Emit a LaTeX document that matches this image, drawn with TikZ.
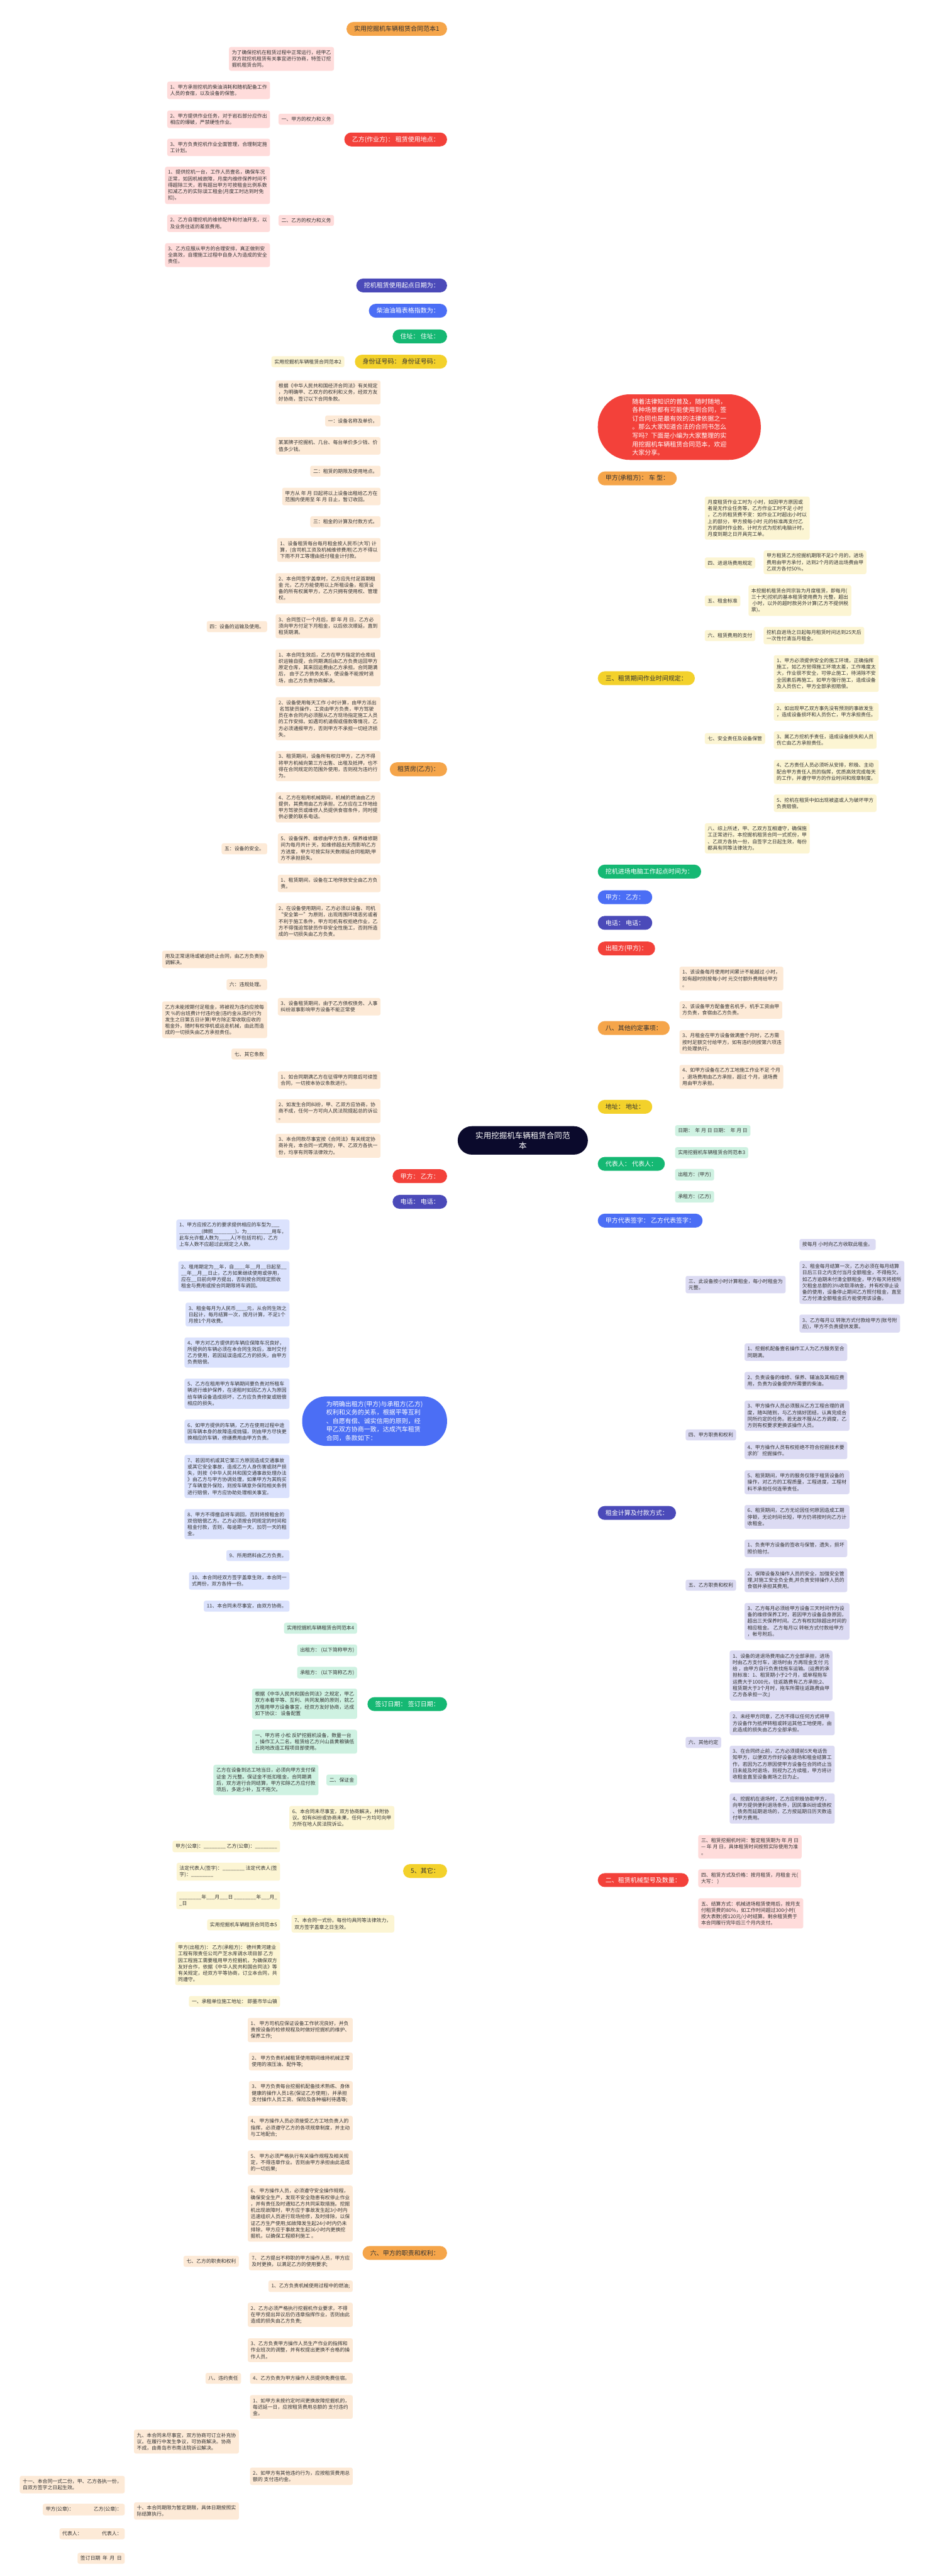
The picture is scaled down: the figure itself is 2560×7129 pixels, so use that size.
\documentclass[tikz,border=0pt]{standalone}
\usepackage{fontspec}
\setmainfont{Noto Sans CJK SC}
\usetikzlibrary{backgrounds}
\definecolor{oB}{HTML}{F5A54A}\definecolor{oD}{HTML}{F09A3E}\definecolor{oL}{HTML}{FDEAD7}
\definecolor{rB}{HTML}{F3413A}\definecolor{rD}{HTML}{D8352D}\definecolor{rL}{HTML}{FFDCDB}
\definecolor{iB}{HTML}{4B4AB9}\definecolor{iD}{HTML}{3A399E}\definecolor{iL}{HTML}{DCDBF3}
\definecolor{bB}{HTML}{4B6EF5}\definecolor{bD}{HTML}{3B5BE0}\definecolor{bL}{HTML}{DBE2FD}
\definecolor{gB}{HTML}{15B873}\definecolor{gD}{HTML}{10A565}\definecolor{gL}{HTML}{CFF2E2}
\definecolor{yB}{HTML}{F3D12B}\definecolor{yD}{HTML}{E9C41A}\definecolor{yL}{HTML}{FCF5D3}
\definecolor{cB}{HTML}{0B0A2C}\definecolor{txt}{HTML}{333333}
\tikzset{
 itm/.style={font=\fontsize{3.9pt}{5.05pt}\selectfont, align=left, inner xsep=2.3pt, inner ysep=2.5pt, rounded corners=1.5pt, text=txt},
 br/.style={font=\fontsize{4.95pt}{6.7pt}\selectfont, inner xsep=6pt, inner ysep=0pt, minimum height=10.9pt, rounded corners=5.4pt},
 brO/.style={br,fill=oB,text=txt}, brR/.style={br,fill=rB,text=white},
 brI/.style={br,fill=iB,text=white}, brB/.style={br,fill=bB,text=white},
 brG/.style={br,fill=gB,text=white}, brY/.style={br,fill=yB,text=txt},
 bigR/.style={fill=rB,text=white,font=\fontsize{4.95pt}{6.7pt}\selectfont,align=left,inner xsep=27pt,inner ysep=3.4pt,rounded corners=25pt},
 bigB/.style={fill=bB,text=white,font=\fontsize{4.95pt}{6.7pt}\selectfont,align=left,inner xsep=19pt,inner ysep=3.75pt,rounded corners=19pt},
 rootn/.style={fill=cB,text=white,font=\fontsize{6.2pt}{8pt}\selectfont,align=center,inner xsep=14pt,inner ysep=4.3pt,rounded corners=11pt},
 lk/.style={line width=0.6pt, rounded corners=2pt},
 mk/.style={line width=0.9pt}
}
\newcommand\itL[5]{\node[itm,fill=#1,anchor=east] (#2) at (#3,#4) {#5};}
\newcommand\itR[5]{\node[itm,fill=#1,anchor=west] (#2) at (#3,#4) {#5};}
\newcommand\lkL[3]{\draw[lk,draw=#1] (#2.west) -- ++(-13,0) |- (#3.east);}
\newcommand\lkR[3]{\draw[lk,draw=#1] (#2.east) -- ++(13,0) |- (#3.west);}
\newcommand\mainL[3]{\draw[mk,draw=#1] (#2.east) .. controls (1350,#3) and (1350,3156) .. (rc);}
\newcommand\mainR[3]{\draw[mk,draw=#1] (rc) .. controls (1550,3156) and (1550,#3) .. (#2.west);}
\begin{document}
\begin{tikzpicture}[x=0.01cm,y=-0.01cm]
\useasboundingbox (0,0) rectangle (2560,7129);
\fill[white] (0,0) rectangle (2560,7129);
\coordinate (rc) at (1447,3156);
\node[rootn] (root) at (1447,3156) {实用挖掘机车辆租赁合同范\\本};
% ---------------- LEFT ----------------
\node[brO,anchor=east] (L1) at (1238,80) {实用挖掘机车辆租赁合同范本1};
\node[brR,anchor=east] (L2) at (1238,386) {乙方(作业方)：\ 租赁使用地点：};
\itL{rL}{L2a}{925}{163}{为了确保挖机在租赁过程中正常运行，经甲乙\\双方就挖机租赁有关事宜进行协商，特签订挖\\掘机租赁合同。}
\itL{rL}{L2b}{925}{330}{一、甲方的权力和义务}
\itL{rL}{L2bA}{748}{250}{1、甲方承担挖机的柴油消耗和随机配备工作\\人员的食宿，以及设备的保管。}
\itL{rL}{L2bB}{748}{330}{2、甲方提供作业任务，对于岩石部分应作出\\相应的爆破，严禁硬性作业。}
\itL{rL}{L2bC}{748}{408}{3、甲方负责挖机作业全面管理，合理制定施\\工计划。}
\itL{rL}{L2c}{925}{610}{二、乙方的权力和义务}
\itL{rL}{L2cA}{748}{513}{1、提供挖机一台，工作人员壹名，确保车况\\正常，如因机械故障，月度内维修保养时间不\\得超除三天，若有超出甲方可按租金比例系数\\扣减乙方的实际误工租金(月度工时达到时免\\扣)。}
\itL{rL}{L2cB}{748}{618}{2、乙方自理挖机的维修配件和付油开支，以\\及业务往返的差旅费用。}
\itL{rL}{L2cC}{748}{706}{3、乙方应服从甲方的合理安排，真正做到安\\全高效，自理施工过程中自身人为造成的安全\\责任。}
\node[brI,anchor=east] (L3) at (1238,790) {挖机租赁使用起点日期为：};
\node[brB,anchor=east] (L4) at (1238,860) {柴油油箱表格指数为：};
\node[brG,anchor=east] (L5) at (1238,931) {住址：\ 住址：};
\node[brY,anchor=east] (L6) at (1238,1001) {身份证号码：\ 身份证号码：};
\itL{yL}{L6a}{954}{1001}{实用挖掘机车辆租赁合同范本2}
\node[brO,anchor=east] (L7) at (1238,2129) {租赁房(乙方)：};
\itL{oL}{L7a}{1054}{1086}{根据《中华人民共和国经济合同法》有关规定\\，为明确甲、乙双方的权利和义务，经双方友\\好协商，签订以下合同条款。}
\itL{oL}{L7b}{1054}{1165}{一：设备名称及单价。}
\itL{oL}{L7c}{1054}{1234}{某某牌子挖掘机、几台、每台单价多少钱、价\\值多少钱。}
\itL{oL}{L7d}{1054}{1304}{二：租赁的期限及使用地点。}
\itL{oL}{L7e}{1054}{1374}{甲方从 年 月 日起将以上设备出租给乙方在\\范围内使用至 年 月 日止，暂订收回。}
\itL{oL}{L7f}{1054}{1444}{三：租金的计算及付款方式。}
\itL{oL}{L7g}{1054}{1522}{1、设备租赁每台每月租金按人民币(大写) 计\\算，(含司机工资及机械维修费用)乙方不得以\\下雨不开工等理由抵付租金计付款。}
\itL{oL}{L7h}{1054}{1628}{2、本合同签字盖章时，乙方应先付足首期租\\金 元，乙方方能使用以上所租设备，租赁设\\备的所有权属甲方，乙方只拥有使用权、管理\\权。}
\itL{oL}{L7i}{1054}{1733}{3、合同签订一个月后，即 年 月 日，乙方必\\须向甲方付足下月租金，以后依次顺延，直到\\租赁期满。}
\itL{oL}{L7ia}{740}{1734}{四：设备的运输及使用。}
\itL{oL}{L7j}{1054}{1848}{1、本合同生效后，乙方在甲方指定的仓库组\\织运输自提，合同期满后由乙方负责运回甲方\\原定仓库，其来回运费由乙方承担。合同期满\\后，\ 由于乙方债务关系，使设备不能按时退\\场，由乙方负责协商解决。}
\itL{oL}{L7k}{1054}{1989}{2、设备使用每天工作 小时计算，由甲方派出\\\ 名驾驶员操作，工资由甲方负责，甲方驾驶\\员在本合同内必须服从乙方现场指定施工人员\\的工作安排。如遇司机请假或借款等情况，乙\\方必须通报甲方，否则甲方不承担一切经济损\\失。}
\itL{oL}{L7l}{1054}{2120}{3、租赁期间，设备所有权归甲方，乙方不得\\将甲方机械向第三方出售、出租及抵押，也不\\得在合同规定的范围外使用，否则视为违约行\\为。}
\itL{oL}{L7m}{1054}{2234}{4、乙方在租用机械期间，机械的燃油由乙方\\提供，其费用由乙方承担。乙方应在工作地给\\甲方驾驶员或维修人员提供食宿条件，同时提\\供必要的联系电话。}
\itL{oL}{L7n}{1054}{2348}{5、设备保养、维修由甲方负责，保养维修期\\间为每月共计 天，如维修超出天而影响乙方\\方进度，甲方可按实际天数顺延合同租期;甲\\方不承担损失。}
\itL{oL}{L7na}{740}{2349}{五：设备的安全。}
\itL{oL}{L7o}{1054}{2445}{1、租赁期间，设备在工地停放安全由乙方负\\责。}
\itL{oL}{L7p}{1054}{2550}{2、在设备使用期间，乙方必须以设备、司机\\“安全第一”为原则，出现周围环境恶劣或者\\不利于施工条件，甲方司机有权拒绝作业，乙\\方不得强迫驾驶员作非安全性施工，否则所造\\成的一切损失由乙方负责。}
\itL{oL}{L7q}{1054}{2786}{3、设备租赁期间，由于乙方债权债务、人事\\纠纷滋事影响甲方设备不能正常使}
\itL{oL}{L7qA}{740}{2655}{用及正常退场或被迫终止合同，由乙方负责协\\调解决。}
\itL{oL}{L7qB}{740}{2725}{六：违规处理。}
\itL{oL}{L7qC}{740}{2822}{乙方未能按期付足租金，将被视为违约应按每\\天 \%的台班费计付违约金(违约金从违约行为\\发生之日第五日计算)甲方除正常收取应收的\\租金外，随时有权停机或运走机械，由此而造\\成的一切损失由乙方承担责任。}
\itL{oL}{L7qD}{740}{2917}{七、其它条款}
\itL{oL}{L7r}{1054}{2989}{1、如合同期满乙方在征得甲方同意后可续签\\合同，一切按本协议条款进行。}
\itL{oL}{L7s}{1054}{3075}{2、如发生合同纠纷，甲、乙双方应协商，协\\商不成，任何一方可向人民法院提起总的诉讼\\。}
\itL{oL}{L7t}{1054}{3171}{3、本合同款尽事宜按《合同法》有关规定协\\商补充，本合同一式两份，甲、乙双方各执一\\份，均享有同等法律效力。}
\node[brR,anchor=east] (L8) at (1238,3255) {甲方：\ 乙方：};
\node[brI,anchor=east] (L9) at (1238,3326) {电话：\ 电话：};
\node[bigB,anchor=east] (L10) at (1238,3933) {为明确出租方(甲方)与承租方(乙方)\\权利和义务的关系，根据平等互利\\、自愿有偿、诚实信用的原则，经\\甲乙双方协商一致，达成汽车租赁\\合同，条款如下：};
\itL{bL}{L10a}{802}{3417}{1、甲方应按乙方的要求提供相应的车型为\_\_\_\\\_\_\_\_\_\_\_\_(牌照\_\_\_\_\_\_\_\_)，为\_\_\_\_\_\_\_\_\_用车，\\此车允许载人数为\_\_\_\_人(不包括司机)，乙方\\上车人数不应超过此规定之人数。}
\itL{bL}{L10b}{802}{3532}{2、租用期定为\_\_年，自\_\_\_\_年\_\_月\_\_日起至\_\_\\\_\_年\_\_月\_\_日止，乙方如果继续使用或停用，\\应在\_\_日前向甲方提出，否则按合同规定照收\\租金与费用或按合同期限将车调回。}
\itL{bL}{L10c}{802}{3638}{3、租金每月为人民币\_\_\_\_元，从合同生效之\\日起计，每月结算一次，按月计算，不足1个\\月按1个月收费。}
\itL{bL}{L10d}{802}{3743}{4、甲方对乙方提供的车辆应保障车况良好，\\所提供的车辆必须在本合同生效后，准时交付\\乙方使用，若因延误造成乙方的损失，由甲方\\负责赔偿。}
\itL{bL}{L10e}{802}{3857}{5、乙方在租用甲方车辆期间要负责对所租车\\辆进行维护保养，在退租时如因乙方人为原因\\给车辆设备造成损坏，乙方应负责修复或赔偿\\相应的损失。}
\itL{bL}{L10f}{802}{3962}{6、如甲方提供的车辆，乙方在使用过程中途\\因车辆本身的故障造成抛锚，则由甲方尽快更\\换相应的车辆，修缮费用由甲方负责。}
\itL{bL}{L10g}{802}{4086}{7、若因司机或其它第三方原因造成交通事故\\或其它安全事故，造成乙方人身伤害或财产损\\失，则按《中华人民共和国交通事故处理办法\\》由乙方与甲方协调处理，如果甲方为其购买\\了车辆意外保险，则按车辆意外保险相关条例\\进行赔偿，甲方应协助处理相关事宜。}
\itL{bL}{L10h}{802}{4218}{8、甲方不得擅自将车调回，否则将按租金的\\双倍赔偿乙方。乙方必须按合同规定的时间和\\租金付款，否则，每逾期一天，加罚一天的租\\金。}
\itL{bL}{L10i}{802}{4305}{9、所用燃料由乙方负责。}
\itL{bL}{L10j}{802}{4375}{10、本合同经双方签字盖章生效，本合同一\\式两份，双方各持一份。}
\itL{bL}{L10k}{802}{4445}{11、本合同未尽事宜，由双方协商。}
\node[brG,anchor=east] (L11) at (1238,4716) {签订日期：\ 签订日期：};
\itL{gL}{L11a}{989}{4506}{实用挖掘机车辆租赁合同范本4}
\itL{gL}{L11b}{989}{4567}{出租方：\ (以下简称甲方)}
\itL{gL}{L11c}{989}{4629}{承租方：\ (以下简称乙方)}
\itL{gL}{L11d}{989}{4715}{根据《中华人民共和国合同法》之规定，甲乙\\双方本着平等、互利、共同发展的原则，就乙\\方租用甲方设备事宜，经双方友好协商，达成\\如下协议：\ 设备配置}
\itL{gL}{L11e}{989}{4820}{一、甲方将 小松 反铲挖掘机设备，数量一台\\，操作工人二名，租赁给乙方兴山县黄粮镇低\\丘岗地改造工程项目部使用。}
\itL{gL}{L11f}{989}{4926}{二、保证金}
\itL{gL}{L11fa}{882}{4926}{乙方在设备到达工地当日，必须向甲方支付保\\证金 万元整。保证金不抵扣租金，合同期满\\后，双方进行合同结算，甲方扣除乙方应付款\\项后，多退少补，互不拖欠。}
\node[brY,anchor=east] (L12) at (1238,5178) {5、其它：};
\itL{yL}{L12a}{1092}{5031}{6、本合同未尽事宜，双方协商解决，并附协\\议。如有纠纷或协商未果，任何一方均可向甲\\方所在地人民法院诉讼。}
\itL{yL}{L12b}{1092}{5324}{7、本合同一式份。每份均具同等法律效力，\\双方签字盖章之日生效。}
\itL{yL}{L12bA}{776}{5110}{甲方(公章)：\_\_\_\_\_\_\_\_\ 乙方(公章)：\_\_\_\_\_\_\_\_}
\itL{yL}{L12bB}{776}{5180}{法定代表人(签字)：\_\_\_\_\_\_\_\_\ 法定代表人(签\\字)：\_\_\_\_\_\_\_\_}
\itL{yL}{L12bC}{776}{5259}{\_\_\_\_\_\_\_\_年\_\_\_月\_\_\_日\ \_\_\_\_\_\_\_\_年\_\_\_月\_\\\_日}
\itL{yL}{L12bD}{776}{5327}{实用挖掘机车辆租赁合同范本5}
\itL{yL}{L12bE}{776}{5434}{甲方(出租方)：\ 乙方(承租方)：\ 德州黄河建业\\工程有限责任公司产芝水库调水项目部\ 乙方\\因工程施工需要租用甲方挖掘机，为确保双方\\友好合作，依据《中华人民共和国合同法》等\\有关规定，经双方平等协商，订立本合同，共\\同遵守。}
\itL{yL}{L12bF}{776}{5539}{一、承租单位施工地址：\ 即墨市华山镇}
\node[brO,anchor=east] (L13) at (1238,6235) {六、甲方的职责和权利：};
\itL{oL}{L13a}{977}{5618}{1、\ 甲方司机应保证设备工作状况良好，并负\\责按设备的检修规程及时做好挖掘机的维护、\\保养工作;}
\itL{oL}{L13b}{977}{5705}{2、\ 甲方负责机械租赁使用期间维持机械正常\\使用的液压油、配件等;}
\itL{oL}{L13c}{977}{5793}{3、\ 甲方负责每台挖掘机配备技术熟练、身体\\健康的操作人员1名(保证乙方使用)，并承担\\支付操作人员工资、保险及各种福利待遇等;}
\itL{oL}{L13d}{977}{5889}{4、\ 甲方操作人员必须接受乙方工地负责人的\\指挥，必须遵守乙方的各项规章制度，并主动\\与工地配合;}
\itL{oL}{L13e}{977}{5985}{5、\ 甲方必须严格执行有关操作规程及相关规\\定，不得违章作业。否则由甲方承担由此造成\\的一切后果;}
\itL{oL}{L13f}{977}{6126}{6、\ 甲方操作人员，必须遵守安全操作规程，\\确保安全生产，发现不安全隐患有权停止作业\\，并有责任及时通知乙方共同采取措施。挖掘\\机出现故障时，甲方应于事故发生起3小时内\\迅速组织人员进行现场抢修，及时排除，以保\\证乙方生产使用;如故障发生起24小时内仍未\\排除，甲方应于事故发生起36小时内更换挖\\掘机，以确保工程顺利施工\ 。}
\itL{oL}{L13g}{977}{6258}{7、\ 乙方提出不称职的甲方操作人员，甲方应\\及时更换，以满足乙方的使用要求;}
\itL{oL}{L13ga}{662}{6258}{七、乙方的职责和权利}
\itL{oL}{L13h}{977}{6327}{1、乙方负责机械使用过程中的燃油;}
\itL{oL}{L13i}{977}{6406}{2、乙方必须严格执行挖掘机作业要求，不得\\在甲方提出异议后仍违章指挥作业，否则由此\\造成的损失由乙方负责;}
\itL{oL}{L13j}{977}{6504}{3、乙方负责甲方操作人员生产作业的指挥和\\作业班次的调整，并有权提出更换不合格的操\\作人员。}
\itL{oL}{L13k}{977}{6582}{4、乙方负责为甲方操作人员提供免费住宿。}
\itL{oL}{L13ka}{668}{6582}{八、违约责任}
\itL{oL}{L13l}{977}{6661}{1、如甲方未按约定时间更换故障挖掘机的，\\每迟延一日，应按租赁费用总额的 支付违约\\金。}
\itL{oL}{L13m}{977}{6853}{2、如甲方有其他违约行为，应按租赁费用总\\额的 支付违约金。}
\itL{oL}{L13mA}{662}{6757}{九、本合同未尽事宜，双方协商可订立补充协\\议。在履行中发生争议，可协商解决。协商\\不成，由青岛市市南法院诉讼解决。}
\itL{oL}{L13mB}{662}{6949}{十、本合同期限为暂定期限，具体日期按照实\\际结算执行。}
\itL{oL}{L13nA}{346}{6876}{十一、本合同一式二份，甲、乙方各执一份，\\自双方签字之日起生效。}
\itL{oL}{L13nB}{346}{6945}{甲方(公章)：\qquad\qquad 乙方(公章)：}
\itL{oL}{L13nC}{346}{7012}{代表人：\qquad\qquad 代表人：}
\itL{oL}{L13nD}{346}{7080}{签订日期\ \ 年\ \ 月\ \ 日}
% ---------------- RIGHT ----------------
\node[bigR,anchor=west] (R1) at (1654,1182) {随着法律知识的普及，随时随地，\\各种场景都有可能使用到合同，签\\订合同也是最有效的法律依据之一\\。那么大家知道合法的合同书怎么\\写吗？下面是小编为大家整理的实\\用挖掘机车辆租赁合同范本，欢迎\\大家分享。};
\node[brO,anchor=west] (R2) at (1654,1324) {甲方(承租方)：\ 车\ 型：};
\node[brY,anchor=west] (R3) at (1654,1877) {三、租赁期间作业时间规定：};
\itR{yL}{R3a}{1950}{1434}{月度租赁作业工时为 小时，如因甲方原因或\\者是无作业任务等，乙方作业工时不足 小时\\，乙方的租赁费不变：如作业工时超出小时以\\上的部分，甲方按每小时 元的标准再支付乙\\方的超时作业款。计时方式为挖机电脑计时，\\月度到期之日开具完工单。}
\itR{yL}{R3b}{1950}{1558}{四、进退场费用规定}
\itR{yL}{R3ba}{2113}{1556}{甲方租赁乙方挖掘机期限不足2个月的，进场\\费用由甲方承付，达到2个月的进出场费由甲\\乙双方各付50\%。}
\itR{yL}{R3c}{1950}{1663}{五、租金标准}
\itR{yL}{R3ca}{2071}{1662}{本挖掘机租赁合同宗旨为月度租赁，即每月(\\三十天)挖机的基本租赁使用费为 元整，超出\\\ 小时，以外的超时款另外计算(乙方不提供税\\票)。}
\itR{yL}{R3d}{1950}{1759}{六、租赁费用的支付}
\itR{yL}{R3da}{2113}{1759}{挖机自进场之日起每月租赁时间达到25天后\\一次性付清当月租金。}
\itR{yL}{R3e}{1950}{2044}{七、安全责任及设备保管}
\itR{yL}{R3eA}{2141}{1864}{1、甲方必须提供安全的施工环境，正确指挥\\施工，如乙方觉得施工环境太差，工作难度太\\大，作业很不安全，可停止施工，待消除不安\\全因素后再施工。如甲方强行施工，造成设备\\及人员伤亡，甲方全部承担赔偿。}
\itR{yL}{R3eB}{2141}{1970}{2、如出现甲乙双方事先没有预测的事故发生\\，造成设备损坏和人员伤亡，甲方承担责任。}
\itR{yL}{R3eC}{2141}{2048}{3、属乙方挖机手责任，造成设备损失和人员\\伤亡由乙方承担责任。}
\itR{yL}{R3eD}{2141}{2136}{4、乙方责任人员必须听从安排，积极、主动\\配合甲方责任人员的指挥，优质高效完成每天\\的工作，并遵守甲方的作业时间和规章制度。}
\itR{yL}{R3eE}{2141}{2223}{5、挖机在租赁中如出现被盗或人为破坏甲方\\负责赔偿。}
\itR{yL}{R3f}{1950}{2320}{八、综上所述，甲、乙双方互相遵守，确保施\\工正常进行。本挖掘机租赁合同一式贰份，甲\\、乙双方各执一份，自签字之日起生效，每份\\都具有同等法律效力。}
\node[brG,anchor=west] (R4) at (1654,2412) {挖机进场电脑工作起点时间为：};
\node[brB,anchor=west] (R5) at (1654,2483) {甲方：\ 乙方：};
\node[brI,anchor=west] (R6) at (1654,2554) {电话：\ 电话：};
\node[brR,anchor=west] (R7) at (1654,2625) {出租方(甲方)：};
\node[brO,anchor=west] (R8) at (1654,2845) {八、其他约定事项：};
\itR{oL}{R8a}{1880}{2708}{1、该设备每月使用时间累计不能越过 小时，\\如有超时则按每小时 元交付额外费用给甲方\\。}
\itR{oL}{R8b}{1880}{2795}{2、该设备甲方配备壹名机手，机手工资由甲\\方负责，食宿由乙方负责。}
\itR{oL}{R8c}{1880}{2884}{3、月租金在甲方设备做满壹个月时，乙方需\\按时足额交付给甲方，如有违约则按第六项违\\约处理执行。}
\itR{oL}{R8d}{1880}{2980}{4、如甲方设备在乙方工地施工作业不足 个月\\，退场费用由乙方承担，超过 个月，退场费\\用由甲方承担。}
\node[brY,anchor=west] (R9) at (1654,3063) {地址：\ 地址：};
\node[brG,anchor=west] (R10) at (1654,3221) {代表人：\ 代表人：};
\itR{gL}{R10a}{1868}{3129}{日期：\ \ 年\ 月\ 日\ 日期：\ \ 年\ 月\ 日}
\itR{gL}{R10b}{1868}{3190}{实用挖掘机车辆租赁合同范本3}
\itR{gL}{R10c}{1868}{3251}{出租方：(甲方)}
\itR{gL}{R10d}{1868}{3312}{承租方：(乙方)}
\node[brB,anchor=west] (R11) at (1654,3378) {甲方代表签字：\ 乙方代表签字：};
\node[brI,anchor=west] (R12) at (1654,4187) {租金计算及付款方式：};
\itR{iL}{R12a}{1897}{3555}{三、此设备按小时计算租金，每小时租金为\\元整。}
\itR{iL}{R12aA}{2212}{3444}{按每月 小时向乙方收取此租金。}
\itR{iL}{R12aB}{2212}{3549}{2、租金每月结算一次，乙方必须在每月结算\\日后三日之内支付当月全额租金，不得拖欠。\\如乙方逾期未付清全额租金，甲方每天将按所\\欠租金总额的3\%收取滞纳金。并有权停止设\\备的使用，设备停止期间乙方照付租金，直至\\乙方付清全额租金后方能使用该设备。}
\itR{iL}{R12aC}{2212}{3663}{3、乙方每月以 转账方式付款给甲方(账号附\\后)，甲方不负责提供发票。}
\itR{iL}{R12b}{1897}{3971}{四、甲方职责和权利}
\itR{iL}{R12bA}{2060}{3742}{1、挖掘机配备壹名操作工人为乙方服务至合\\同期满。}
\itR{iL}{R12bB}{2060}{3821}{2、负责设备的维修、保养、辅油及其相应费\\用，负责为设备提供所需要的柴油。}
\itR{iL}{R12bC}{2060}{3918}{3、甲方操作人员必须服从乙方工程合理的调\\度，随叫随到，与乙方搞好团结，认真完成合\\同所约定的任务。若无故不服从乙方调度，乙\\方则有权要求更换该操作人员。}
\itR{iL}{R12bD}{2060}{4014}{4、甲方操作人员有权拒绝不符合挖掘技术要\\求的'挖掘操作。}
\itR{iL}{R12bE}{2060}{4102}{5、租赁期间，甲方的服务仅限于租赁设备的\\操作，对乙方的工程质量，工程进度，工程材\\料不承担任何连带责任。}
\itR{iL}{R12bF}{2060}{4198}{6、租赁期间，乙方无论因任何原因造成工期\\停顿，无论时间长短，甲方仍将按时向乙方计\\收租金。}
\itR{iL}{R12c}{1897}{4387}{五、乙方职责和权利}
\itR{iL}{R12cA}{2060}{4285}{1、负责甲方设备的签收与保管，遗失，损坏\\照价赔付。}
\itR{iL}{R12cB}{2060}{4373}{2、保障设备及操作人员的安全，加强安全管\\理,对施工安全负全责,并负责安排操作人员的\\食宿并承担其费用。}
\itR{iL}{R12cC}{2060}{4487}{3、乙方每月必须给甲方设备三天时间作为设\\备的维修保养工时，若因甲方设备自身原因，\\超出三天保养时间。乙方有权扣除超出时间的\\相应租金。\ 乙方每月以 转帐方式付款给甲方\\，帐号附后。}
\itR{iL}{R12d}{1897}{4822}{六、其他约定}
\itR{iL}{R12dA}{2019}{4637}{1、设备的进退场费用由乙方全部承担，进场\\时由乙方支付车，退场时由 方再现金支付 元\\给 ，由甲方自行负责找拖车运输。(运费的承\\担标准：1、租赁期小于2个月，或单程拖车\\运费大于1000元，往返路费有乙方承担;2、\\租赁期大于3个月时，拖车所需往返路费由甲\\乙方各承担一次;)}
\itR{iL}{R12dB}{2019}{4769}{2、未经甲方同意，乙方不得以任何方式将甲\\方设备作为抵押转租或转运其他工地使用，由\\此造成的损失由乙方全部承担。}
\itR{iL}{R12dC}{2019}{4882}{3、在合同终止前，乙方必须提前5天电话告\\知甲方，以便双方作好设备退场和租金结算工\\作，若因为乙方原因使甲方设备在合同终止当\\日未能及时退场，则视为乙方续租，甲方将计\\收租金直至设备离场之日为止。}
\itR{iL}{R12dD}{2019}{5005}{4、挖掘机在退场时，乙方应积极协助甲方，\\向甲方提供便利退场条件，因民事纠纷或债权\\、债务而延期退场的，乙方按延期日历天数追\\付甲方费用。}
\node[brR,anchor=west] (R13) at (1654,5203) {二、租赁机械型号及数量：};
\itR{rL}{R13a}{1932}{5111}{三、租赁挖掘机时间：暂定租赁期为 年 月 日\\— 年 月 日，具体租赁时间按照实际使用为准\\。}
\itR{rL}{R13b}{1932}{5198}{四、租赁方式及价格：按月租赁，月租金 元(\\大写：\ )}
\itR{rL}{R13c}{1932}{5295}{五、结算方式：机械进场租赁使用后，按月支\\付租赁费的80\%，如工作时间超过300小时(\\按大表数)按120元/小时结算。剩余租赁费于\\本合同履行完毕后三个月内支付。}
% ---------------- CONNECTORS ----------------
\begin{scope}[on background layer]
\mainL{oB}{L1}{80}\mainL{rB}{L2}{386}\mainL{iB}{L3}{790}\mainL{bB}{L4}{860}
\mainL{gB}{L5}{931}\mainL{yB}{L6}{1001}\mainL{oB}{L7}{2129}\mainL{rB}{L8}{3255}
\mainL{iB}{L9}{3326}\mainL{bB}{L10}{3933}\mainL{gB}{L11}{4716}\mainL{yB}{L12}{5178}
\mainL{oB}{L13}{6235}
\mainR{rB}{R1}{1182}\mainR{oB}{R2}{1324}\mainR{yB}{R3}{1877}\mainR{gB}{R4}{2412}
\mainR{bB}{R5}{2483}\mainR{iB}{R6}{2554}\mainR{rB}{R7}{2625}\mainR{oB}{R8}{2845}
\mainR{yB}{R9}{3063}\mainR{gB}{R10}{3221}\mainR{bB}{R11}{3378}\mainR{iB}{R12}{4187}
\mainR{rB}{R13}{5203}
\foreach \c in {L2a,L2b,L2c}{\lkL{rD}{L2}{\c}}
\foreach \c in {L2bA,L2bB,L2bC}{\lkL{rD}{L2b}{\c}}
\foreach \c in {L2cA,L2cB,L2cC}{\lkL{rD}{L2c}{\c}}
\lkL{yD}{L6}{L6a}
\foreach \c in {L7a,L7b,L7c,L7d,L7e,L7f,L7g,L7h,L7i,L7j,L7k,L7l,L7m,L7n,L7o,L7p,L7q,L7r,L7s,L7t}{\lkL{oD}{L7}{\c}}
\lkL{oD}{L7i}{L7ia}\lkL{oD}{L7n}{L7na}
\foreach \c in {L7qA,L7qB,L7qC,L7qD}{\lkL{oD}{L7q}{\c}}
\foreach \c in {L10a,L10b,L10c,L10d,L10e,L10f,L10g,L10h,L10i,L10j,L10k}{\lkL{bD}{L10}{\c}}
\foreach \c in {L11a,L11b,L11c,L11d,L11e,L11f}{\lkL{gD}{L11}{\c}}
\lkL{gD}{L11f}{L11fa}
\foreach \c in {L12a,L12b}{\lkL{yD}{L12}{\c}}
\foreach \c in {L12bA,L12bB,L12bC,L12bD,L12bE,L12bF}{\lkL{yD}{L12b}{\c}}
\foreach \c in {L13a,L13b,L13c,L13d,L13e,L13f,L13g,L13h,L13i,L13j,L13k,L13l,L13m}{\lkL{oD}{L13}{\c}}
\lkL{oD}{L13g}{L13ga}\lkL{oD}{L13k}{L13ka}
\foreach \c in {L13mA,L13mB}{\lkL{oD}{L13m}{\c}}
\foreach \c in {L13nA,L13nB,L13nC,L13nD}{\lkL{oD}{L13mB}{\c}}
\foreach \c in {R3a,R3b,R3c,R3d,R3e,R3f}{\lkR{yD}{R3}{\c}}
\lkR{yD}{R3b}{R3ba}\lkR{yD}{R3c}{R3ca}\lkR{yD}{R3d}{R3da}
\foreach \c in {R3eA,R3eB,R3eC,R3eD,R3eE}{\lkR{yD}{R3e}{\c}}
\foreach \c in {R8a,R8b,R8c,R8d}{\lkR{oD}{R8}{\c}}
\foreach \c in {R10a,R10b,R10c,R10d}{\lkR{gD}{R10}{\c}}
\foreach \c in {R12a,R12b,R12c,R12d}{\lkR{iD}{R12}{\c}}
\foreach \c in {R12aA,R12aB,R12aC}{\lkR{iD}{R12a}{\c}}
\foreach \c in {R12bA,R12bB,R12bC,R12bD,R12bE,R12bF}{\lkR{iD}{R12b}{\c}}
\foreach \c in {R12cA,R12cB,R12cC}{\lkR{iD}{R12c}{\c}}
\foreach \c in {R12dA,R12dB,R12dC,R12dD}{\lkR{iD}{R12d}{\c}}
\foreach \c in {R13a,R13b,R13c}{\lkR{rD}{R13}{\c}}
\end{scope}
\end{tikzpicture}
\end{document}
